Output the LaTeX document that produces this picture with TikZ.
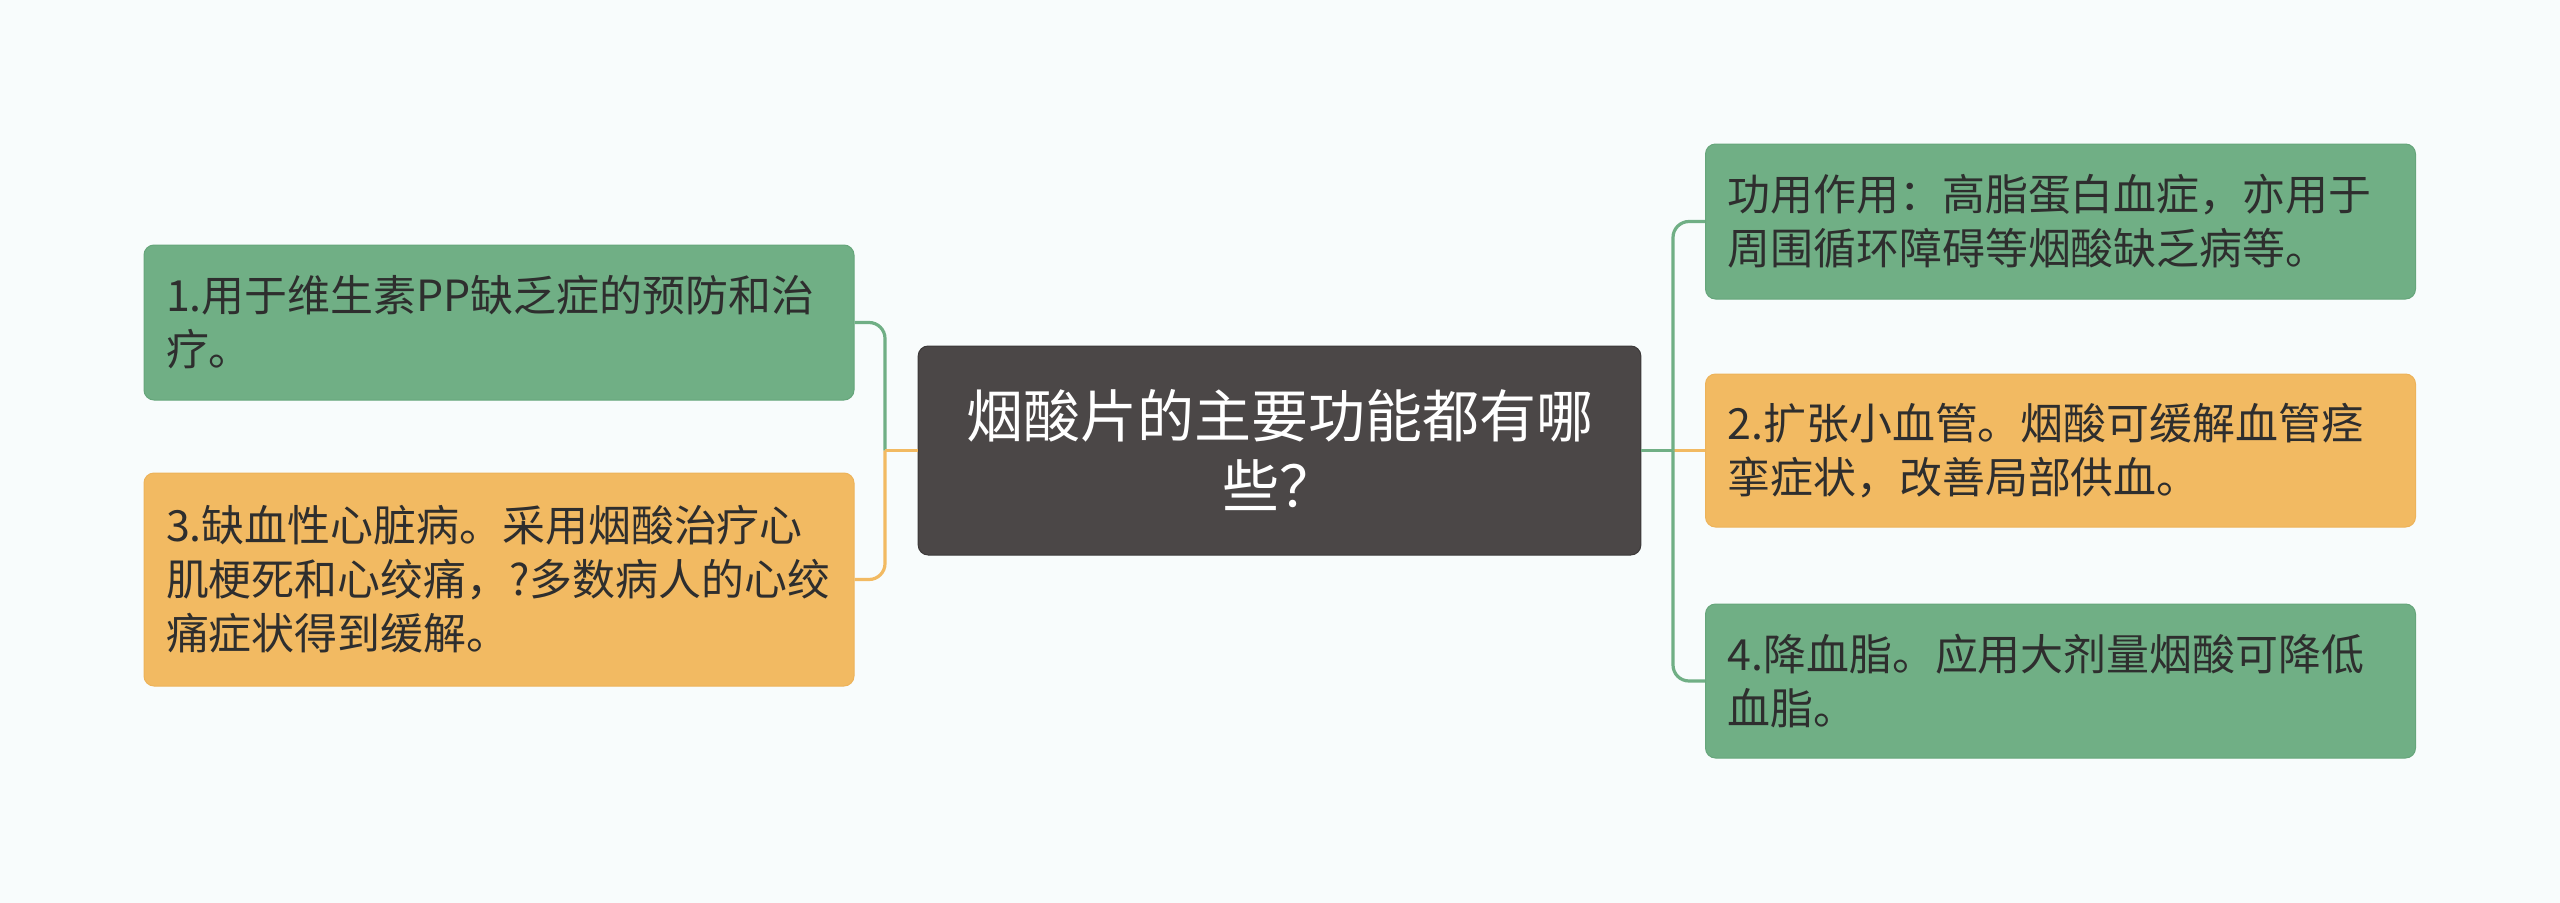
\documentclass[tikz,border=0pt]{standalone}
\usepackage{fontspec}
\setmainfont{Noto Sans CJK SC}
\definecolor{bg}{HTML}{F8FCFC}
\definecolor{gfill}{HTML}{70AF85}
\definecolor{gdraw}{HTML}{66A67B}
\definecolor{ofill}{HTML}{F2BA62}
\definecolor{odraw}{HTML}{EDB35A}
\definecolor{cfill}{HTML}{4B4747}
\definecolor{txt}{HTML}{2E2E2E}
\begin{document}
\begin{tikzpicture}[x=0.75pt,y=-0.75pt,
  box/.style={rounded corners=7.5pt, line width=0.75pt, minimum width=532.5pt,
    inner xsep=16.5pt, inner ysep=0pt, text width=499.5pt, align=left,
    text=txt, font=\fontsize{32.2}{40.5}\selectfont},
  gbox/.style={box, fill=gfill, draw=gdraw},
  obox/.style={box, fill=ofill, draw=odraw},
  cbox/.style={rounded corners=7.5pt, fill=cfill, draw=cfill!80!black, line width=0.75pt,
    minimum width=542pt, minimum height=156.75pt, align=center, text=white,
    font=\fontsize{42.75}{52.5}\selectfont},
  gline/.style={draw=gfill, line width=2.4pt},
  oline/.style={draw=ofill, line width=2.4pt}]
\useasboundingbox[fill=bg] (0,0) rectangle (2560,903);

\node[cbox] (c) at (1279.5,450.5) {烟酸片的主要功能都有哪\\些？};

\node[gbox, minimum height=116.25pt] (l1) at (499,322.5) {1.用于维生素PP缺乏症的预防和治\\疗。};
\node[obox, minimum height=159.75pt] (l3) at (499,579.5) {3.缺血性心脏病。采用烟酸治疗心\\肌梗死和心绞痛，?多数病人的心绞\\痛症状得到缓解。};

\node[gbox, minimum height=116.25pt] (ra) at (2060.5,221.5) {功用作用：高脂蛋白血症，亦用于\\周围循环障碍等烟酸缺乏病等。};
\node[obox, minimum height=114.75pt] (r2) at (2060.5,450.5) {2.扩张小血管。烟酸可缓解血管痉\\挛症状，改善局部供血。};
\node[gbox, minimum height=115.5pt] (r4) at (2060.5,681) {4.降血脂。应用大剂量烟酸可降低\\血脂。};

\coordinate (jl) at (885,450.5);
\coordinate (jr) at (1673,450.5);

\draw[gline, rounded corners=12pt] (jl) |- (l1.east);
\draw[oline, rounded corners=12pt] (jl) |- (l3.east);
\draw[oline] (c.west) -- (jl);

\draw[oline] (jr) -- (r2.west);
\draw[gline, rounded corners=12pt] (jr) |- (ra.west);
\draw[gline, rounded corners=12pt] (jr) |- (r4.west);
\draw[gline] (c.east) -- (jr);
\end{tikzpicture}
\end{document}
